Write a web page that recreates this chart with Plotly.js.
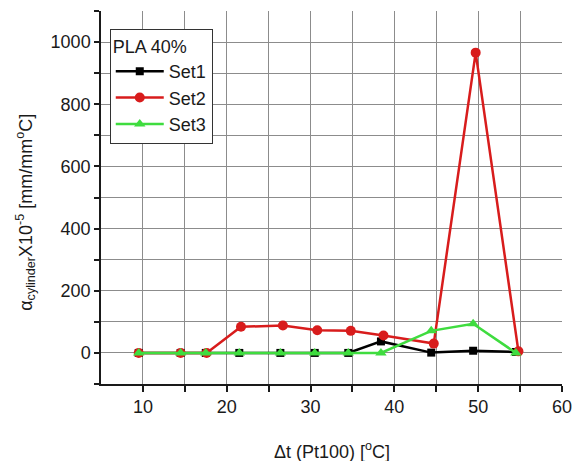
<!DOCTYPE html>
<html>
<head>
<meta charset="utf-8">
<script src="https://cdn.plot.ly/plotly-3.0.1.min.js"></script>
<style>html,body{margin:0;padding:0;background:#fff;}#chart{width:582px;height:461px;}</style>
</head>
<body>
<div id="chart"></div>
<script>
// ---- data ----
const set1X = [9.5, 14.5, 17.5, 21.5, 26.4, 30.5, 34.5, 38.4, 44.4, 49.4, 54.5];
const set1Y = [0, 0, 0, 0, 0, 0, 0, 37, 1, 7, 3];
const set2X = [9.5, 14.5, 17.6, 21.7, 26.7, 30.8, 34.8, 38.7, 44.7, 49.7, 54.8];
const set2Y = [0, 0, 0, 84, 88, 73, 71, 56, 30, 966, 5];
const set3X = [9.5, 14.5, 17.5, 21.5, 26.4, 30.5, 34.5, 38.4, 44.4, 49.4, 54.5];
const set3Y = [0, 0, 0, 0, 0, 0, 0, 0, 71, 94, 0];
const seriesNames = ['Set1', 'Set2', 'Set3'];
const legendTitle = 'PLA 40%';
const xTickVals = [10, 15, 20, 25, 30, 35, 40, 45, 50, 55, 60];
const xTickText = ['10', '', '20', '', '30', '', '40', '', '50', '', '60'];
const yTickVals = [-100, 0, 100, 200, 300, 400, 500, 600, 700, 800, 900, 1000, 1100];
const yTickText = ['', '0', '', '200', '', '400', '', '600', '', '800', '', '1000', ''];
const xRange = [5, 60];
const yRange = [-100, 1100];
const xTitle = 'Δt (Pt100) [<sup>o</sup>C]';
const yTitle = 'α<sub>cylinder</sub>X10<sup>-5</sup> [mm/mm<sup>o</sup>C]';

const FONT = 'Liberation Sans, Arial, sans-serif';
const TXT = '#1a1a1a';
const GRID = '#8c8c8c';
const AX = '#1a1a1a';

const traces = [
  {x: set1X, y: set1Y, name: seriesNames[0], mode: 'lines+markers',
   line: {color: '#000000', width: 2.5}, marker: {symbol: 'square', size: 8, color: '#000000'}},
  {x: set2X, y: set2Y, name: seriesNames[1], mode: 'lines+markers',
   line: {color: '#d81c1c', width: 2.5}, marker: {symbol: 'circle', size: 10, color: '#d81c1c'}},
  {x: set3X, y: set3Y, name: seriesNames[2], mode: 'lines+markers',
   line: {color: '#3fdc3f', width: 2.5}, marker: {symbol: 'triangle-up', size: 10, color: '#3fdc3f'}}
];

const layout = {
  width: 582, height: 461,
  margin: {l: 101, r: 20, t: 11, b: 77},
  paper_bgcolor: '#ffffff', plot_bgcolor: '#ffffff',
  font: {family: FONT, size: 18, color: TXT},
  showlegend: true,
  legend: {
    x: 0.019, y: 0.953, xanchor: 'left', yanchor: 'top',
    bgcolor: '#ffffff', bordercolor: '#333333', borderwidth: 1,
    font: {family: FONT, size: 18, color: TXT},
    title: {text: legendTitle, font: {family: FONT, size: 18, color: TXT}},
    itemwidth: 48,
    tracegroupgap: 0
  },
  xaxis: {
    range: xRange, showline: true, linecolor: AX, linewidth: 1.5,
    zeroline: false, showgrid: true, gridcolor: GRID, gridwidth: 1.3,
    tickmode: 'array', tickvals: xTickVals, ticktext: xTickText,
    ticks: 'outside', ticklen: 6, tickwidth: 1.5, tickcolor: AX,
    tickfont: {family: FONT, size: 18, color: TXT},
    fixedrange: true
  },
  yaxis: {
    range: yRange, showline: true, linecolor: AX, linewidth: 1.5,
    zeroline: false, showgrid: true, gridcolor: GRID, gridwidth: 1.3,
    tickmode: 'array', tickvals: yTickVals, ticktext: yTickText,
    ticks: 'outside', ticklen: 5, tickwidth: 1.5, tickcolor: AX,
    tickfont: {family: FONT, size: 18, color: TXT},
    fixedrange: true
  },
  annotations: [
    {text: yTitle, textangle: -90, xref: 'paper', yref: 'paper',
     x: -0.164, y: 0.46, xanchor: 'center', yanchor: 'middle', showarrow: false,
     font: {family: FONT, size: 18, color: TXT}},
    {text: xTitle, xref: 'paper', yref: 'paper',
     x: 0.5, y: -0.179, xanchor: 'center', yanchor: 'middle', showarrow: false,
     font: {family: FONT, size: 18, color: TXT}}
  ]
};

Plotly.newPlot('chart', traces, layout, {displayModeBar: false});
</script>
</body>
</html>
